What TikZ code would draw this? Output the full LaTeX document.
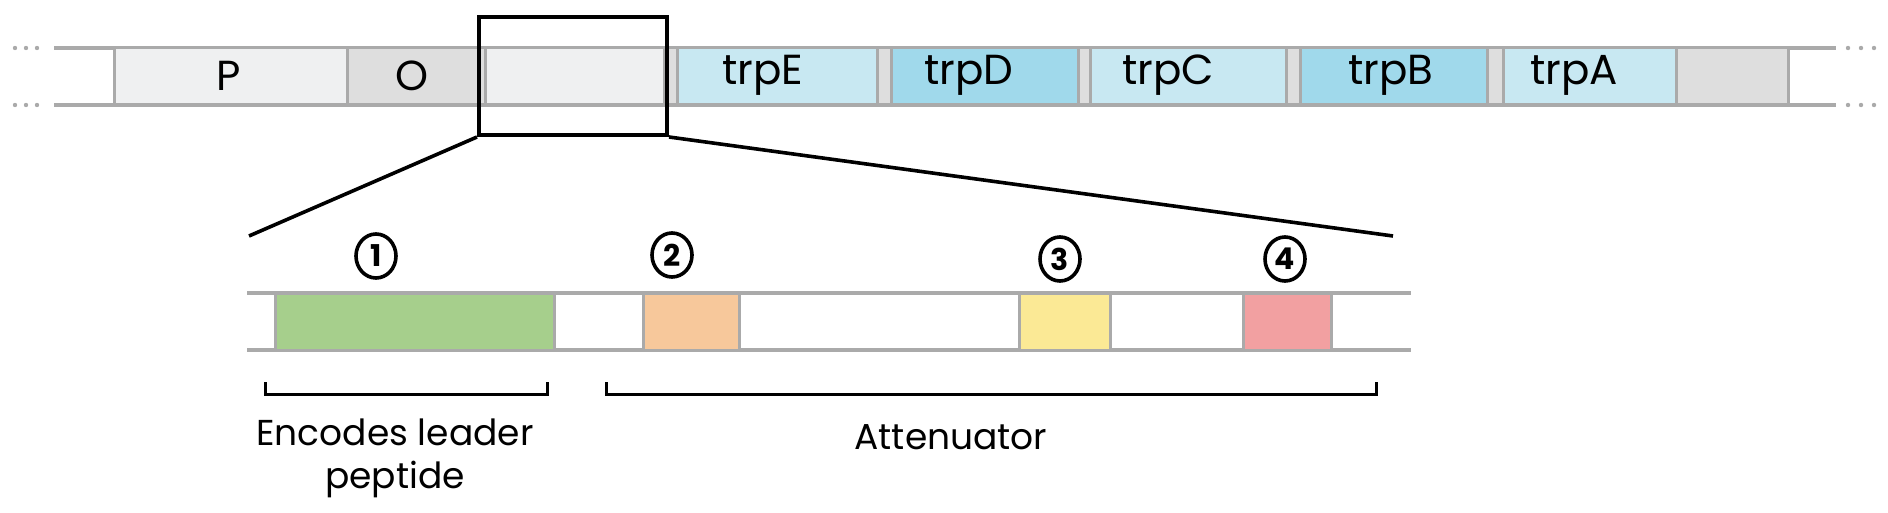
\documentclass[tikz,border=0pt]{standalone}
\usepackage{fontspec}
\setmainfont{Poppins}
\usetikzlibrary{positioning,calc,shapes.geometric}
\definecolor{linegray}{RGB}{170,170,170}
\definecolor{palegray}{RGB}{239,240,241}
\definecolor{midgray}{RGB}{222,222,222}
\definecolor{paleblue}{RGB}{200,232,242}
\definecolor{deepblue}{RGB}{160,217,235}
\definecolor{leadgreen}{RGB}{166,207,140}
\definecolor{seqorange}{RGB}{247,200,155}
\definecolor{seqyellow}{RGB}{251,233,149}
\definecolor{seqred}{RGB}{242,160,161}

\tikzset{
  strand/.style={draw=linegray, line width=1.8pt},
  segbox/.style={draw=linegray, line width=1.5pt},
  genelabel/.style={font=\fontsize{21}{24}\selectfont, inner sep=0pt},
  regionnum/.style={draw, ellipse, line width=1.8pt, minimum width=20pt,
    minimum height=22pt, inner sep=0pt, font=\fontsize{15}{15}\selectfont\bfseries},
  brace/.style={draw, line width=1.5pt},
  caption/.style={font=\fontsize{18}{21.5}\selectfont, align=center, inner sep=0pt}
}

\begin{document}
\begin{tikzpicture}[x=0.5pt, y=-0.5pt]
  \useasboundingbox (0,0) rectangle (1888,513);

  % operon strand
  \draw[strand] (54,48) -- (1836,48);
  \draw[strand] (54,105) -- (1836,105);
  \foreach \x in {15,26,37,1848,1861,1874} {
    \fill[linegray] (\x,48) circle (2.2);
    \fill[linegray] (\x,105) circle (2.2);
  }
  \foreach \a/\b/\c in {114/347/palegray, 347/485/midgray, 485/664/palegray,
      664/677/midgray, 677/877/paleblue, 877/891/midgray, 891/1078/deepblue,
      1078/1090/midgray, 1090/1286/paleblue, 1286/1300/midgray,
      1300/1487/deepblue, 1487/1503/midgray, 1503/1676/paleblue,
      1676/1788/midgray} {
    \draw[segbox, fill=\c] (\a,48) rectangle (\b,105);
  }
  \node[genelabel] (p) at (229,76) {P};
  \node[genelabel] (o) at (412,76) {O};
  \node[genelabel] (trpE) at (763,75) {trpE};
  \node[genelabel] (trpD) at (969,75) {trpD};
  \node[genelabel] (trpC) at (1168,75) {trpC};
  \node[genelabel] (trpB) at (1391,75) {trpB};
  \node[genelabel] (trpA) at (1574,75) {trpA};

  % zoomed leader region
  \node[draw, line width=2pt, minimum width=94pt, minimum height=59pt,
    inner sep=0pt] (zoom) at (573,76) {};
  \coordinate (zl) at (249,236);
  \coordinate (zr) at (1393,236);
  \draw[line width=1.8pt] (zoom.south west) -- (zl);
  \draw[line width=1.8pt] (zoom.south east) -- (zr);

  \draw[strand] (247,293) -- (1411,293);
  \draw[strand] (247,350) -- (1411,350);
  \foreach \a/\b/\c in {275/554/leadgreen, 643/739/seqorange,
      1019/1110/seqyellow, 1243/1331/seqred} {
    \draw[segbox, fill=\c] (\a,293) rectangle (\b,350);
  }
  \node[regionnum] (r1) at (376,256) {1};
  \node[regionnum] (r2) at (672,255) {2};
  \node[regionnum] (r3) at (1060,259) {3};
  \node[regionnum] (r4) at (1285,259) {4};

  % brackets
  \draw[brace] (265,382) -- (265,394) -- (547,394) -- (547,382);
  \draw[brace] (606,382) -- (606,394) -- (1376,394) -- (1376,382);
  \node[caption] (leader) at (395,458) {Encodes leader\\peptide};
  \node[caption] (atten) at (951,437) {Attenuator};
\end{tikzpicture}
\end{document}
